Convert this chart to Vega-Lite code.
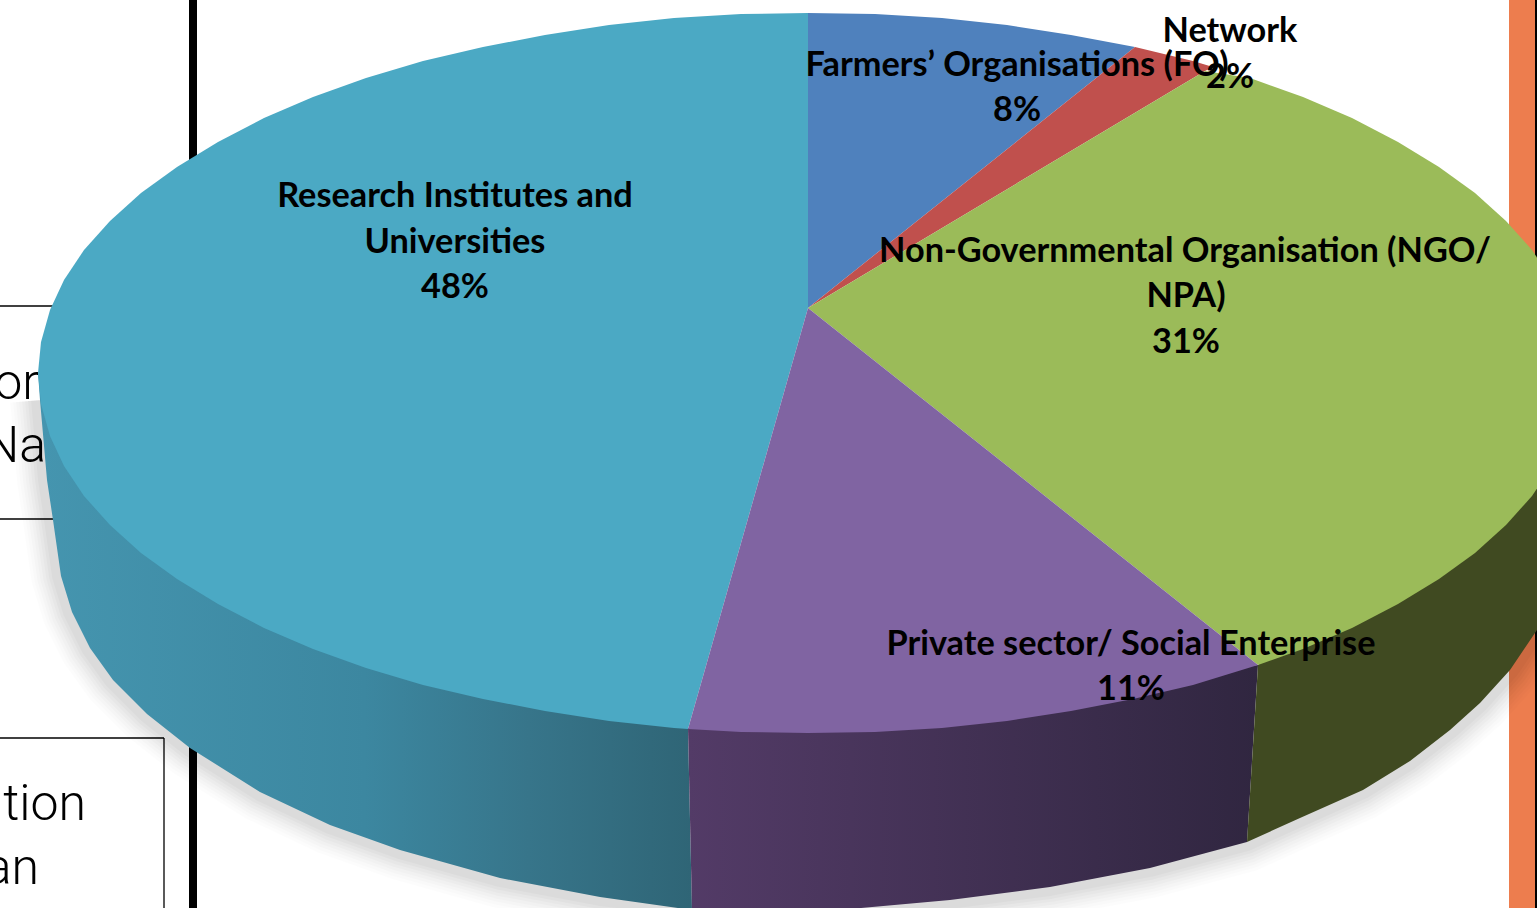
{"$schema":"https://vega.github.io/schema/vega-lite/v6.json","width":1537,"height":908,"autosize":{"type":"none"},"padding":0,"background":"#ffffff","view":{"stroke":null},
"datasets":{
"bars":[{"name":"orange","x":1509,"x2":1535,"y":0,"y2":908},{"name":"black","x":1535,"x2":1538,"y":0,"y2":908},{"name":"black","x":189,"x2":197,"y":0,"y2":908}],
"rules":[{"x":0,"x2":55,"y":306,"y2":306},{"x":0,"x2":58,"y":519,"y2":519},{"x":0,"x2":164,"y":738,"y2":738},{"x":164,"x2":164,"y":738,"y2":908}],
"backtext":[{"t":"or","x":39,"y":399},{"t":"Na","x":46,"y":462},{"t":"tion","x":86,"y":820},{"t":"an","x":39,"y":884}],
"labels":[{"t":"Research Institutes and","x":455,"y":207},{"t":"Universities","x":455,"y":253},{"t":"48%","x":455,"y":298},{"t":"Farmers’ Organisations (FO)","x":1017,"y":76},{"t":"8%","x":1017,"y":121},{"t":"Network","x":1230,"y":42},{"t":"2%","x":1230,"y":88},{"t":"Non-Governmental Organisation (NGO/","x":1185,"y":262},{"t":"NPA)","x":1186,"y":307},{"t":"31%","x":1186,"y":353},{"t":"Private sector/ Social Enterprise","x":1131,"y":655},{"t":"11%","x":1131,"y":700}],
"edge":[{"x":40,"y":400},{"x":47,"y":480},{"x":53,"y":520},{"x":61,"y":576},{"x":72,"y":612},{"x":90,"y":648},{"x":113,"y":680},{"x":147,"y":714},{"x":190,"y":748},{"x":260,"y":792},{"x":330,"y":825},{"x":400,"y":850},{"x":500,"y":878},{"x":600,"y":897},{"x":692,"y":908},{"x":750,"y":912},{"x":850,"y":909},{"x":950,"y":900},{"x":1050,"y":887},{"x":1150,"y":868},{"x":1247,"y":842},{"x":1300,"y":818},{"x":1363,"y":790},{"x":1410,"y":761},{"x":1450,"y":730},{"x":1480,"y":703},{"x":1510,"y":670},{"x":1537,"y":630},{"x":1560,"y":590}],
"sideTeal":[{"x":38,"y":373},{"x":40,"y":400},{"x":47,"y":480},{"x":53,"y":520},{"x":61,"y":576},{"x":72,"y":612},{"x":90,"y":648},{"x":113,"y":680},{"x":147,"y":714},{"x":190,"y":748},{"x":260,"y":792},{"x":330,"y":825},{"x":400,"y":850},{"x":500,"y":878},{"x":600,"y":897},{"x":692,"y":910},{"x":688,"y":728}],
"sidePurple":[{"x":692,"y":910},{"x":750,"y":912},{"x":850,"y":909},{"x":950,"y":900},{"x":1050,"y":887},{"x":1150,"y":868},{"x":1247,"y":842},{"x":1258,"y":665},{"x":688,"y":728}],
"sideOlive":[{"x":1247,"y":842},{"x":1300,"y":818},{"x":1363,"y":790},{"x":1410,"y":761},{"x":1450,"y":730},{"x":1480,"y":703},{"x":1510,"y":670},{"x":1537,"y":630},{"x":1560,"y":590},{"x":1560,"y":400},{"x":1258,"y":665}],
"tops":[
{"s":"Farmers","x":808,"y":308},{"s":"Farmers","x":808,"y":13},{"s":"Farmers","x":875,"y":14},{"s":"Farmers","x":942,"y":18},{"s":"Farmers","x":1007,"y":25},{"s":"Farmers","x":1071,"y":35},{"s":"Farmers","x":1135,"y":47},
{"s":"Network","x":808,"y":308},{"s":"Network","x":1135,"y":47},{"s":"Network","x":1193,"y":61},{"s":"Network","x":1213,"y":67},{"s":"Network","x":1205,"y":71},
{"s":"NGO","x":808,"y":308},{"s":"NGO","x":1205,"y":71},{"s":"NGO","x":1250,"y":78},{"s":"NGO","x":1303,"y":97},{"s":"NGO","x":1352,"y":118},{"s":"NGO","x":1398,"y":142},{"s":"NGO","x":1439,"y":167},{"s":"NGO","x":1475,"y":193},{"s":"NGO","x":1506,"y":221},{"s":"NGO","x":1532,"y":250},{"s":"NGO","x":1552,"y":280},{"s":"NGO","x":1566,"y":310},{"s":"NGO","x":1575,"y":342},{"s":"NGO","x":1578,"y":373},{"s":"NGO","x":1575,"y":404},{"s":"NGO","x":1566,"y":436},{"s":"NGO","x":1552,"y":466},{"s":"NGO","x":1532,"y":496},{"s":"NGO","x":1506,"y":525},{"s":"NGO","x":1475,"y":553},{"s":"NGO","x":1439,"y":579},{"s":"NGO","x":1398,"y":604},{"s":"NGO","x":1352,"y":628},{"s":"NGO","x":1303,"y":649},{"s":"NGO","x":1258,"y":665},
{"s":"Private","x":808,"y":308},{"s":"Private","x":1258,"y":665},{"s":"Private","x":1193,"y":685},{"s":"Private","x":1133,"y":699},{"s":"Private","x":1071,"y":711},{"s":"Private","x":1007,"y":721},{"s":"Private","x":942,"y":728},{"s":"Private","x":875,"y":732},{"s":"Private","x":808,"y":733},{"s":"Private","x":741,"y":732},{"s":"Private","x":688,"y":729},
{"s":"Research","x":808,"y":308},{"s":"Research","x":688,"y":729},{"s":"Research","x":674,"y":728},{"s":"Research","x":609,"y":721},{"s":"Research","x":545,"y":711},{"s":"Research","x":483,"y":699},{"s":"Research","x":423,"y":685},{"s":"Research","x":366,"y":668},{"s":"Research","x":313,"y":649},{"s":"Research","x":264,"y":628},{"s":"Research","x":218,"y":604},{"s":"Research","x":177,"y":579},{"s":"Research","x":141,"y":553},{"s":"Research","x":110,"y":525},{"s":"Research","x":84,"y":496},{"s":"Research","x":64,"y":466},{"s":"Research","x":50,"y":436},{"s":"Research","x":41,"y":404},{"s":"Research","x":38,"y":373},{"s":"Research","x":41,"y":342},{"s":"Research","x":50,"y":310},{"s":"Research","x":64,"y":280},{"s":"Research","x":84,"y":250},{"s":"Research","x":110,"y":221},{"s":"Research","x":141,"y":193},{"s":"Research","x":177,"y":167},{"s":"Research","x":218,"y":142},{"s":"Research","x":264,"y":118},{"s":"Research","x":313,"y":97},{"s":"Research","x":366,"y":78},{"s":"Research","x":423,"y":61},{"s":"Research","x":483,"y":47},{"s":"Research","x":545,"y":35},{"s":"Research","x":609,"y":25},{"s":"Research","x":674,"y":18},{"s":"Research","x":741,"y":14},{"s":"Research","x":808,"y":13}
]},
"encoding":{
"x":{"field":"x","type":"quantitative","scale":{"domain":[0,1537],"nice":false,"zero":false},"axis":null},
"y":{"field":"y","type":"quantitative","scale":{"domain":[908,0],"nice":false,"zero":false},"axis":null}},
"layer":[
{"data":{"name":"bars"},"mark":{"type":"rect","clip":true},"encoding":{"x2":{"field":"x2"},"y2":{"field":"y2"},"color":{"field":"name","type":"nominal","legend":null,"scale":{"domain":["orange","black"],"range":["#ED7D4E","#000000"]}}}},
{"data":{"name":"rules"},"mark":{"type":"rule","color":"#000000","strokeWidth":1.3,"clip":true},"encoding":{"x2":{"field":"x2"},"y2":{"field":"y2"}}},
{"data":{"name":"backtext"},"mark":{"type":"text","font":"Roboto","fontSize":50,"fontWeight":300,"align":"right","baseline":"alphabetic","color":"#000000"},"encoding":{"text":{"field":"t"}}},
{"data":{"name":"edge"},"transform":[{"window":[{"op":"row_number","as":"i"}]}],"mark":{"type":"line","color":"#000000","strokeWidth":60,"opacity":0.01,"clip":true,"strokeJoin":"round"},"encoding":{"order":{"field":"i"}}},
{"data":{"name":"edge"},"transform":[{"window":[{"op":"row_number","as":"i"}]}],"mark":{"type":"line","color":"#000000","strokeWidth":54,"opacity":0.012,"clip":true,"strokeJoin":"round"},"encoding":{"order":{"field":"i"}}},
{"data":{"name":"edge"},"transform":[{"window":[{"op":"row_number","as":"i"}]}],"mark":{"type":"line","color":"#000000","strokeWidth":48,"opacity":0.014,"clip":true,"strokeJoin":"round"},"encoding":{"order":{"field":"i"}}},
{"data":{"name":"edge"},"transform":[{"window":[{"op":"row_number","as":"i"}]}],"mark":{"type":"line","color":"#000000","strokeWidth":42,"opacity":0.016,"clip":true,"strokeJoin":"round"},"encoding":{"order":{"field":"i"}}},
{"data":{"name":"edge"},"transform":[{"window":[{"op":"row_number","as":"i"}]}],"mark":{"type":"line","color":"#000000","strokeWidth":36,"opacity":0.018,"clip":true,"strokeJoin":"round"},"encoding":{"order":{"field":"i"}}},
{"data":{"name":"edge"},"transform":[{"window":[{"op":"row_number","as":"i"}]}],"mark":{"type":"line","color":"#000000","strokeWidth":30,"opacity":0.02,"clip":true,"strokeJoin":"round"},"encoding":{"order":{"field":"i"}}},
{"data":{"name":"edge"},"transform":[{"window":[{"op":"row_number","as":"i"}]}],"mark":{"type":"line","color":"#000000","strokeWidth":24,"opacity":0.022,"clip":true,"strokeJoin":"round"},"encoding":{"order":{"field":"i"}}},
{"data":{"name":"edge"},"transform":[{"window":[{"op":"row_number","as":"i"}]}],"mark":{"type":"line","color":"#000000","strokeWidth":18,"opacity":0.025,"clip":true,"strokeJoin":"round"},"encoding":{"order":{"field":"i"}}},
{"data":{"name":"sideTeal"},"transform":[{"window":[{"op":"row_number","as":"i"}]}],"mark":{"type":"line","clip":true,"strokeWidth":0,"fill":{"gradient":"linear","x1":0,"y1":0,"x2":1,"y2":0,"stops":[{"offset":0,"color":"#4595AF"},{"offset":0.5,"color":"#3C87A0"},{"offset":0.75,"color":"#37758A"},{"offset":1,"color":"#2F6576"}]}},"encoding":{"order":{"field":"i"}}},
{"data":{"name":"sidePurple"},"transform":[{"window":[{"op":"row_number","as":"i"}]}],"mark":{"type":"line","clip":true,"strokeWidth":0,"fill":{"gradient":"linear","x1":0,"y1":0,"x2":1,"y2":0,"stops":[{"offset":0,"color":"#533B67"},{"offset":1,"color":"#302640"}]}},"encoding":{"order":{"field":"i"}}},
{"data":{"name":"sideOlive"},"transform":[{"window":[{"op":"row_number","as":"i"}]}],"mark":{"type":"line","clip":true,"strokeWidth":0,"fill":"#404A21"},"encoding":{"order":{"field":"i"}}},
{"data":{"name":"tops"},"transform":[{"window":[{"op":"row_number","as":"i"}]},{"filter":"datum.s==='Research'"}],"mark":{"type":"line","clip":true,"strokeWidth":0,"fill":"#4BA9C4"},"encoding":{"order":{"field":"i"}}},
{"data":{"name":"tops"},"transform":[{"window":[{"op":"row_number","as":"i"}]},{"filter":"datum.s==='Farmers'"}],"mark":{"type":"line","clip":true,"strokeWidth":0,"fill":"#4F81BD"},"encoding":{"order":{"field":"i"}}},
{"data":{"name":"tops"},"transform":[{"window":[{"op":"row_number","as":"i"}]},{"filter":"datum.s==='Network'"}],"mark":{"type":"line","clip":true,"strokeWidth":0,"fill":"#C0504D"},"encoding":{"order":{"field":"i"}}},
{"data":{"name":"tops"},"transform":[{"window":[{"op":"row_number","as":"i"}]},{"filter":"datum.s==='NGO'"}],"mark":{"type":"line","clip":true,"strokeWidth":0,"fill":"#9BBB59"},"encoding":{"order":{"field":"i"}}},
{"data":{"name":"tops"},"transform":[{"window":[{"op":"row_number","as":"i"}]},{"filter":"datum.s==='Private'"}],"mark":{"type":"line","clip":true,"strokeWidth":0,"fill":"#8064A2"},"encoding":{"order":{"field":"i"}}},
{"data":{"name":"labels"},"mark":{"type":"text","font":"Lato","fontSize":34.3,"fontWeight":"bold","align":"center","baseline":"alphabetic","color":"#000000"},"encoding":{"text":{"field":"t"}}}
]}
